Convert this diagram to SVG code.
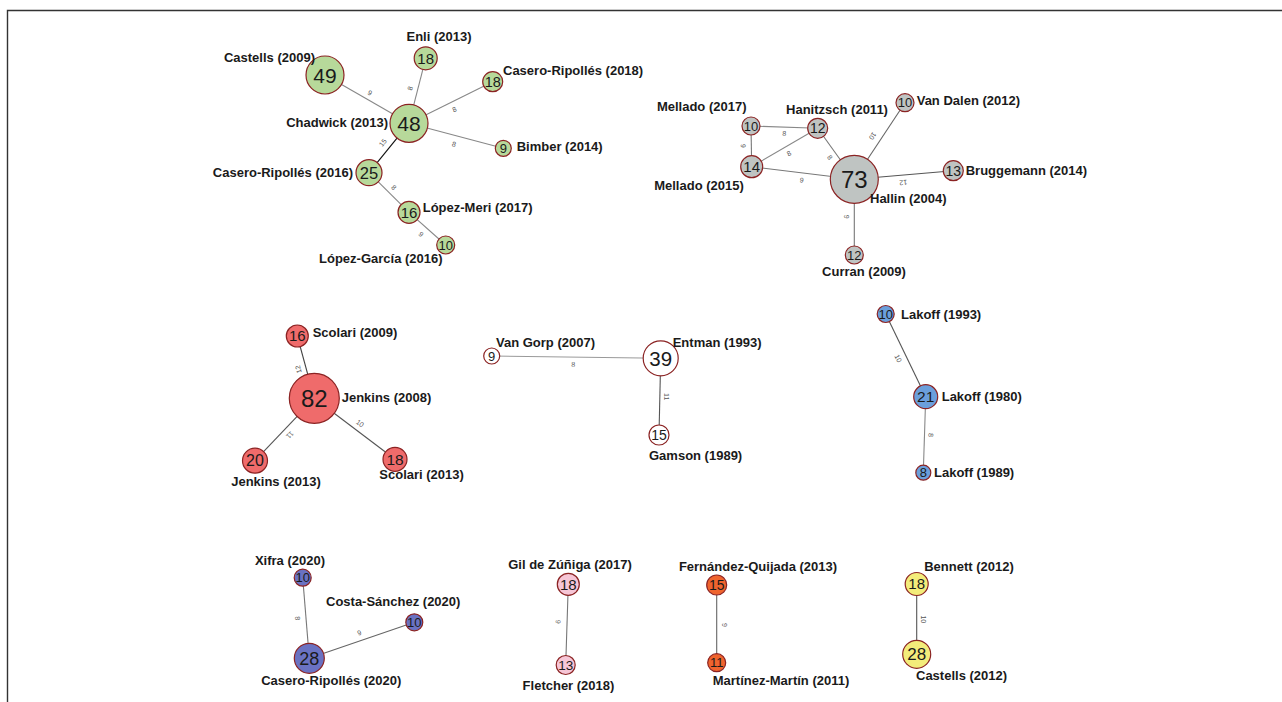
<svg xmlns="http://www.w3.org/2000/svg" width="1282" height="702" viewBox="0 0 1282 702">
<style>
.lbl{font-family:"Liberation Sans",Arial,sans-serif;font-weight:bold;font-size:13px;fill:#1a1a1a}
.num{font-family:"Liberation Sans",Arial,sans-serif;fill:#1a1a1a;text-anchor:middle}
.ew{font-family:"Liberation Sans",Arial,sans-serif;font-size:7px;fill:#555;text-anchor:middle;dominant-baseline:central}
.n{stroke:#8b2323;stroke-width:1.2}
.e{fill:none;stroke-width:1.1}
.g{fill:#b7d99a}.gr{fill:#bfc4c2}.r{fill:#ef6b6b}.w{fill:#ffffff}.b{fill:#6b9fdb}.p{fill:#6a72c2}.pk{fill:#f6c6d6}.o{fill:#ef642e}.y{fill:#f3ec7a}
</style>
<rect width="1282" height="702" fill="#ffffff"/>
<path d="M7.5 702 V10.5 H1282" fill="none" stroke="#333" stroke-width="1.4"/>

<g id="connectors">
<line class="e" stroke="#888" x1="325" y1="75" x2="409" y2="123.3"/>
<line class="e" stroke="#888" x1="425.7" y1="58.3" x2="409" y2="123.3"/>
<line class="e" stroke="#888" x1="492.7" y1="81.7" x2="409" y2="123.3"/>
<line class="e" stroke="#888" x1="503.3" y1="148.3" x2="409" y2="123.3"/>
<line class="e" stroke="#111" x1="369" y1="172.7" x2="409" y2="123.3"/>
<line class="e" stroke="#888" x1="369" y1="172.7" x2="409" y2="212.3"/>
<line class="e" stroke="#888" x1="409" y1="212.3" x2="445.7" y2="245"/>
<text class="ew" transform="translate(370,92.7) rotate(30)">9</text>
<text class="ew" transform="translate(410,88.3) rotate(-76)">8</text>
<text class="ew" transform="translate(454.3,109.3) rotate(-26)">8</text>
<text class="ew" transform="translate(454,144) rotate(15)">8</text>
<text class="ew" transform="translate(382.7,142.7) rotate(-51)">15</text>
<text class="ew" transform="translate(394,187.3) rotate(45)">8</text>
<text class="ew" transform="translate(421,234.3) rotate(42)">9</text>

<line class="e" stroke="#888" x1="751" y1="126" x2="817.7" y2="128.3"/>
<line class="e" stroke="#777" x1="751" y1="126" x2="751.7" y2="166.7"/>
<line class="e" stroke="#888" x1="751.7" y1="166.7" x2="817.7" y2="128.3"/>
<line class="e" stroke="#777" x1="817.7" y1="128.3" x2="854.3" y2="179.3"/>
<line class="e" stroke="#666" x1="905" y1="102.7" x2="854.3" y2="179.3"/>
<line class="e" stroke="#777" x1="751.7" y1="166.7" x2="854.3" y2="179.3"/>
<line class="e" stroke="#555" x1="953.3" y1="170.7" x2="854.3" y2="179.3"/>
<line class="e" stroke="#777" x1="854.3" y1="179.3" x2="854.3" y2="255"/>
<text class="ew" transform="translate(784.3,133.3) rotate(2)">8</text>
<text class="ew" transform="translate(743.3,146) rotate(89)">9</text>
<text class="ew" transform="translate(789,153.3) rotate(-30)">8</text>
<text class="ew" transform="translate(830,157.3) rotate(54)">8</text>
<text class="ew" transform="translate(872.7,136) rotate(124)">10</text>
<text class="ew" transform="translate(801.7,180) rotate(7)">9</text>
<text class="ew" transform="translate(903.3,182.7) rotate(175)">12</text>
<text class="ew" transform="translate(846.7,216.7) rotate(90)">9</text>

<line class="e" stroke="#444" x1="297.3" y1="336" x2="314.3" y2="398.3"/>
<line class="e" stroke="#555" x1="314.3" y1="398.3" x2="255" y2="460.7"/>
<line class="e" stroke="#555" x1="314.3" y1="398.3" x2="395" y2="459.3"/>
<text class="ew" transform="translate(298.3,369.3) rotate(-105)">12</text>
<text class="ew" transform="translate(290,435) rotate(133)">11</text>
<text class="ew" transform="translate(360,423.3) rotate(37)">10</text>

<line class="e" stroke="#999" x1="491.7" y1="356" x2="660.7" y2="358.3"/>
<line class="e" stroke="#555" x1="660.7" y1="358.3" x2="659" y2="435"/>
<text class="ew" transform="translate(573.3,364.3) rotate(1)">8</text>
<text class="ew" transform="translate(666.7,396.7) rotate(91)">11</text>

<line class="e" stroke="#555" x1="885.7" y1="314" x2="925.7" y2="396.7"/>
<line class="e" stroke="#888" x1="925.7" y1="396.7" x2="923.3" y2="472.7"/>
<text class="ew" transform="translate(898.3,358.3) rotate(64)">10</text>
<text class="ew" transform="translate(931,435) rotate(92)">8</text>

<line class="e" stroke="#777" x1="302.7" y1="577.7" x2="309.3" y2="658.3"/>
<line class="e" stroke="#666" x1="309.3" y1="658.3" x2="414.3" y2="622.3"/>
<text class="ew" transform="translate(297.7,618.3) rotate(85)">8</text>
<text class="ew" transform="translate(359.3,632.7) rotate(-19)">9</text>

<line class="e" stroke="#777" x1="568.3" y1="584.3" x2="565.7" y2="665"/>
<line class="e" stroke="#666" x1="716.7" y1="585" x2="716.7" y2="662.7"/>
<line class="e" stroke="#555" x1="916.7" y1="584" x2="916.7" y2="654.3"/>
<text class="ew" transform="translate(558.3,621.7) rotate(92)">9</text>
<text class="ew" transform="translate(724,625) rotate(90)">9</text>
<text class="ew" transform="translate(923.3,619.3) rotate(90)">10</text>
</g>

<g id="castells2009"><circle class="n g" cx="325" cy="75" r="19"/><text class="num" x="325" y="82.5" font-size="21">49</text><text class="lbl" x="315" y="61.5" text-anchor="end">Castells (2009)</text></g>
<g id="enli2013"><circle class="n g" cx="425.7" cy="58.3" r="11.5"/><text class="num" x="425.7" y="63.6" font-size="15">18</text><text class="lbl" x="439" y="41" text-anchor="middle">Enli (2013)</text></g>
<g id="caseroripolles2018"><circle class="n g" cx="492.7" cy="81.7" r="10"/><text class="num" x="492.7" y="86.8" font-size="14.5">18</text><text class="lbl" x="503" y="74.5">Casero-Ripollés (2018)</text></g>
<g id="chadwick2013"><circle class="n g" cx="409" cy="123.3" r="19"/><text class="num" x="409" y="130.8" font-size="21">48</text><text class="lbl" x="388" y="126.5" text-anchor="end">Chadwick (2013)</text></g>
<g id="bimber2014"><circle class="n g" cx="503.3" cy="148.3" r="8"/><text class="num" x="503.3" y="153" font-size="13">9</text><text class="lbl" x="516.7" y="151">Bimber (2014)</text></g>
<g id="caseroripolles2016"><circle class="n g" cx="369" cy="172.7" r="13"/><text class="num" x="369" y="178.5" font-size="16.5">25</text><text class="lbl" x="353" y="177" text-anchor="end">Casero-Ripollés (2016)</text></g>
<g id="lopezmeri2017"><circle class="n g" cx="409" cy="212.3" r="11"/><text class="num" x="409" y="217.6" font-size="15">16</text><text class="lbl" x="422.7" y="212">López-Meri (2017)</text></g>
<g id="lopezgarcia2016"><circle class="n g" cx="445.7" cy="245" r="9"/><text class="num" x="445.7" y="249.6" font-size="13">10</text><text class="lbl" x="380.8" y="263" text-anchor="middle">López-García (2016)</text></g>

<g id="mellado2017"><circle class="n gr" cx="751" cy="126" r="9"/><text class="num" x="751" y="130.6" font-size="13">10</text><text class="lbl" x="701.7" y="111" text-anchor="middle">Mellado (2017)</text></g>
<g id="hanitzsch2011"><circle class="n gr" cx="817.7" cy="128.3" r="10"/><text class="num" x="817.7" y="133.3" font-size="14">12</text><text class="lbl" x="837" y="114" text-anchor="middle">Hanitzsch (2011)</text></g>
<g id="vandalen2012"><circle class="n gr" cx="905" cy="102.7" r="9"/><text class="num" x="905" y="107.3" font-size="13">10</text><text class="lbl" x="916.7" y="104.5">Van Dalen (2012)</text></g>
<g id="mellado2015"><circle class="n gr" cx="751.7" cy="166.7" r="11"/><text class="num" x="751.7" y="172" font-size="15">14</text><text class="lbl" x="699" y="189.5" text-anchor="middle">Mellado (2015)</text></g>
<g id="hallin2004"><circle class="n gr" cx="854.3" cy="179.3" r="24"/><text class="num" x="854.3" y="187.8" font-size="24">73</text><text class="lbl" x="870" y="203">Hallin (2004)</text></g>
<g id="bruggemann2014"><circle class="n gr" cx="953.3" cy="170.7" r="10"/><text class="num" x="953.3" y="175.7" font-size="14">13</text><text class="lbl" x="965.7" y="175">Bruggemann (2014)</text></g>
<g id="curran2009"><circle class="n gr" cx="854.3" cy="255" r="9"/><text class="num" x="854.3" y="259.6" font-size="13">12</text><text class="lbl" x="864" y="275.5" text-anchor="middle">Curran (2009)</text></g>

<g id="scolari2009"><circle class="n r" cx="297.3" cy="336" r="11"/><text class="num" x="297.3" y="341.3" font-size="15">16</text><text class="lbl" x="312.7" y="337">Scolari (2009)</text></g>
<g id="jenkins2008"><circle class="n r" cx="314.3" cy="398.3" r="25"/><text class="num" x="314.3" y="406.8" font-size="24">82</text><text class="lbl" x="341.7" y="402">Jenkins (2008)</text></g>
<g id="jenkins2013"><circle class="n r" cx="255" cy="460.7" r="12.5"/><text class="num" x="255" y="466.3" font-size="16">20</text><text class="lbl" x="276" y="486" text-anchor="middle">Jenkins (2013)</text></g>
<g id="scolari2013"><circle class="n r" cx="395" cy="459.3" r="12"/><text class="num" x="395" y="464.8" font-size="15.5">18</text><text class="lbl" x="379.3" y="478.5">Scolari (2013)</text></g>

<g id="vangorp2007"><circle class="n w" cx="491.7" cy="356" r="8"/><text class="num" x="491.7" y="360.6" font-size="13">9</text><text class="lbl" x="496" y="347">Van Gorp (2007)</text></g>
<g id="entman1993"><circle class="n w" cx="660.7" cy="358.3" r="17.5"/><text class="num" x="660.7" y="365.5" font-size="20.5">39</text><text class="lbl" x="672.7" y="347">Entman (1993)</text></g>
<g id="gamson1989"><circle class="n w" cx="659" cy="435" r="10"/><text class="num" x="659" y="440" font-size="14">15</text><text class="lbl" x="649" y="459.5">Gamson (1989)</text></g>

<g id="lakoff1993"><circle class="n b" cx="885.7" cy="314" r="8.5"/><text class="num" x="885.7" y="318.6" font-size="13">10</text><text class="lbl" x="901" y="318.5">Lakoff (1993)</text></g>
<g id="lakoff1980"><circle class="n b" cx="925.7" cy="396.7" r="12"/><text class="num" x="925.7" y="402.2" font-size="15.5">21</text><text class="lbl" x="941.7" y="401">Lakoff (1980)</text></g>
<g id="lakoff1989"><circle class="n b" cx="923.3" cy="472.7" r="7.5"/><text class="num" x="923.3" y="477.3" font-size="13">8</text><text class="lbl" x="934" y="477">Lakoff (1989)</text></g>

<g id="xifra2020"><circle class="n p" cx="302.7" cy="577.7" r="8.5"/><text class="num" x="302.7" y="582.3" font-size="13">10</text><text class="lbl" x="290" y="564.5" text-anchor="middle">Xifra (2020)</text></g>
<g id="costasanchez2020"><circle class="n p" cx="414.3" cy="622.3" r="8.5"/><text class="num" x="414.3" y="626.9" font-size="13">10</text><text class="lbl" x="326" y="605.5">Costa-Sánchez (2020)</text></g>
<g id="caseroripolles2020"><circle class="n p" cx="309.3" cy="658.3" r="15"/><text class="num" x="309.3" y="664.8" font-size="18">28</text><text class="lbl" x="331.3" y="685" text-anchor="middle">Casero-Ripollés (2020)</text></g>

<g id="gildezuniga2017"><circle class="n pk" cx="568.3" cy="584.3" r="11"/><text class="num" x="568.3" y="589.6" font-size="15">18</text><text class="lbl" x="570" y="568.5" text-anchor="middle">Gil de Zúñiga (2017)</text></g>
<g id="fletcher2018"><circle class="n pk" cx="565.7" cy="665" r="9.5"/><text class="num" x="565.7" y="669.8" font-size="13.5">13</text><text class="lbl" x="568.5" y="689.5" text-anchor="middle">Fletcher (2018)</text></g>
<g id="fernandezquijada2013"><circle class="n o" cx="716.7" cy="585" r="10"/><text class="num" x="716.7" y="590" font-size="14">15</text><text class="lbl" x="758" y="570.5" text-anchor="middle">Fernández-Quijada (2013)</text></g>
<g id="martinezmartin2011"><circle class="n o" cx="716.7" cy="662.7" r="9"/><text class="num" x="716.7" y="667.3" font-size="13">11</text><text class="lbl" x="781" y="684.5" text-anchor="middle">Martínez-Martín (2011)</text></g>

<g id="bennett2012"><circle class="n y" cx="916.7" cy="584" r="11.5"/><text class="num" x="916.7" y="589.3" font-size="15">18</text><text class="lbl" x="969" y="570.5" text-anchor="middle">Bennett (2012)</text></g>
<g id="castells2012"><circle class="n y" cx="916.7" cy="654.3" r="14"/><text class="num" x="916.7" y="660.3" font-size="17">28</text><text class="lbl" x="916" y="679.5">Castells (2012)</text></g>
</svg>
